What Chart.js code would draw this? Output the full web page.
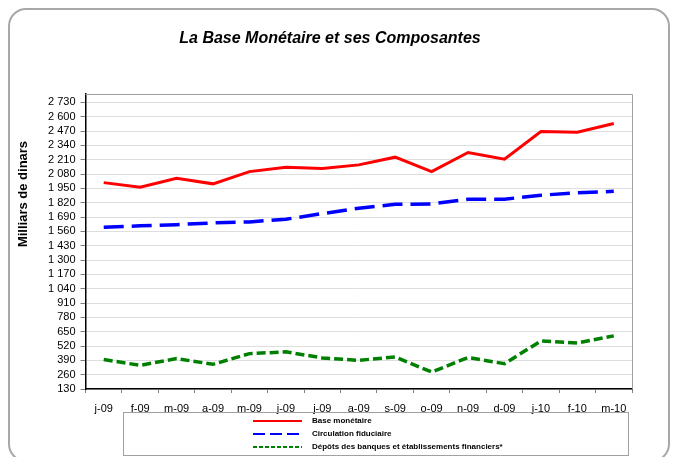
<!DOCTYPE html>
<html>
<head>
<meta charset="utf-8">
<script src="https://cdn.jsdelivr.net/npm/chart.js@4"></script>
<style>
html, body { margin: 0; padding: 0; background: #fff; }
#wrap { position: relative; width: 677px; height: 457px; overflow: hidden; }
#cadre { position: absolute; left: 8px; top: 8px; width: 662px; height: 454px; border: 2px solid #a8a8a8; border-radius: 18px; box-sizing: border-box; }
canvas { position: absolute; left: 0; top: 0; }
</style>
</head>
<body>
<div id="wrap">
  <div id="cadre"></div>
  <canvas id="graficoBase" width="677" height="457"></canvas>
</div>
<script>
const mois = ["j-09","f-09","m-09","a-09","m-09","j-09","j-09","a-09","s-09","o-09","n-09","d-09","j-10","f-10","m-10"];
const baseMonetaire = [2002,1961,2042,1991,2102,2142,2130,2163,2233,2102,2275,2215,2465,2460,2538];
const circulation = [1598,1610,1621,1637,1646,1670,1721,1770,1805,1809,1852,1852,1888,1909,1923];
const depots = [397,345,406,354,451,467,412,390,421,284,415,360,566,548,612];
const ticksY = [130,260,390,520,650,780,910,1040,1170,1300,1430,1560,1690,1820,1950,2080,2210,2340,2470,2600,2730];

const titre = "La Base Monétaire et ses Composantes";
const titreY = "Milliars de dinars";

function fmt(v){
    return String(v).replace(/\B(?=(\d{3})+(?!\d))/g, " ");
}

// cadre du graphique, titres et légende
const decor = {
    id: 'decor',
    afterDraw(chart){
        const ctx = chart.ctx;
        const a = chart.chartArea;
        ctx.save();
        ctx.strokeStyle = '#a0a0a0';
        ctx.lineWidth = 1;
        ctx.beginPath();
        ctx.moveTo(a.left, a.top + 0.5);
        ctx.lineTo(a.right + 0.5, a.top + 0.5);
        ctx.lineTo(a.right + 0.5, a.bottom);
        ctx.stroke();

        ctx.fillStyle = '#000';
        ctx.font = 'italic bold 16px "Liberation Sans", Arial, sans-serif';
        ctx.textAlign = 'center';
        ctx.textBaseline = 'middle';
        ctx.fillText(titre, 330, 39);

        ctx.save();
        ctx.translate(23, 194);
        ctx.rotate(-Math.PI / 2);
        ctx.font = 'bold 13px "Liberation Sans", Arial, sans-serif';
        ctx.fillText(titreY, 0, 0);
        ctx.restore();

        // légende
        ctx.strokeStyle = '#a0a0a0';
        ctx.strokeRect(123.5, 412.5, 505, 43);
        const ys = [421, 434, 447];
        chart.data.datasets.forEach((ds, i) => {
            ctx.strokeStyle = ds.borderColor;
            ctx.lineWidth = 2;
            ctx.setLineDash(ds.legendDash);
            ctx.beginPath();
            ctx.moveTo(253, ys[i]);
            ctx.lineTo(302, ys[i]);
            ctx.stroke();
            ctx.setLineDash([]);
            ctx.fillStyle = '#000';
            ctx.font = 'bold 8px "Liberation Sans", Arial, sans-serif';
            ctx.textAlign = 'left';
            ctx.fillText(ds.label, 312, ys[i]);
        });
        ctx.restore();
    }
};

const chartBase = new Chart(document.getElementById('graficoBase'), {
    type: 'line',
    data: {
        labels: mois,
        datasets: [{
            label: 'Base monétaire',
            data: baseMonetaire,
            borderColor: '#ff0000',
            borderWidth: 3,
            legendDash: []
        },
        {
            label: 'Circulation fiduciaire',
            data: circulation,
            borderColor: '#0000ff',
            borderWidth: 3.5,
            borderDash: [20, 8],
            legendDash: [12, 5]
        },
        {
            label: 'Dépôts des banques et établissements financiers*',
            data: depots,
            borderColor: '#008000',
            borderWidth: 3.5,
            borderDash: [9, 4],
            legendDash: [4, 2]
        }]
    },
    options: {
        responsive: false,
        animation: false,
        layout: {
            padding: { left: 0, right: 45, top: 94, bottom: 0 }
        },
        elements: {
            point: { radius: 0 },
            line: { tension: 0, borderCapStyle: 'butt' }
        },
        plugins: {
            legend: { display: false },
            title: { display: false },
            tooltip: { enabled: false }
        },
        scales: {
            x: {
                offset: true,
                afterFit(scale){ scale.height = 68; },
                grid: {
                    offset: true,
                    drawOnChartArea: false,
                    tickLength: 4,
                    tickColor: '#808080'
                },
                border: { color: '#000', width: 1.5 },
                ticks: {
                    color: '#000',
                    padding: 9,
                    maxRotation: 0,
                    autoSkip: false,
                    font: { family: '"Liberation Sans", Arial, sans-serif', size: 11 }
                }
            },
            y: {
                min: 130,
                max: 2806,
                afterFit(scale){ scale.width = 85.5; },
                afterBuildTicks(scale){
                    scale.ticks = ticksY.map(v => ({ value: v }));
                },
                grid: {
                    color: '#dedede',
                    tickColor: '#808080',
                    tickLength: 5
                },
                border: { color: '#000', width: 1.5 },
                ticks: {
                    color: '#000',
                    padding: 5,
                    autoSkip: false,
                    font: { family: '"Liberation Sans", Arial, sans-serif', size: 11 },
                    callback: v => fmt(v)
                }
            }
        }
    },
    plugins: [decor]
});
</script>
</body>
</html>
